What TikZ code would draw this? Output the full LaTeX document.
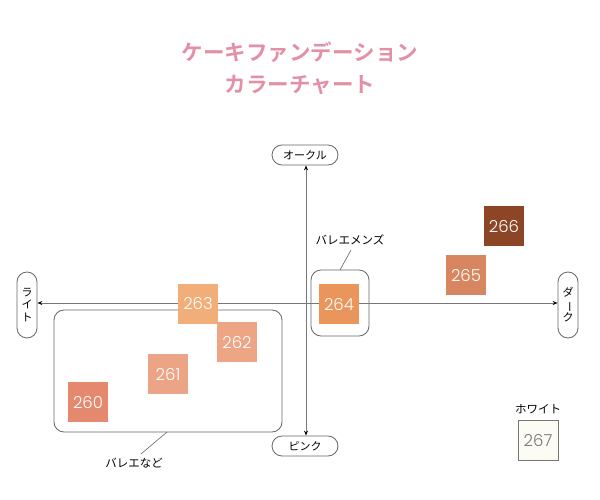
\documentclass[tikz,border=0pt]{standalone}
\usepackage{fontspec}
\usepackage{graphicx}
\newfontfamily\jp{Noto Sans CJK JP}
\newfontfamily\jpb{Noto Sans CJK JP Bold}
\newfontfamily\num{Poppins Light}
\usetikzlibrary{arrows.meta}
\definecolor{titlepink}{HTML}{E38FA5}
\definecolor{c260}{HTML}{E4896E}
\definecolor{c261}{HTML}{ECA487}
\definecolor{c262}{HTML}{EDA586}
\definecolor{c263}{HTML}{F1AE78}
\definecolor{c264}{HTML}{E9955C}
\definecolor{c265}{HTML}{D8865F}
\definecolor{c266}{HTML}{8C4525}
\definecolor{c267}{HTML}{FCFBF4}
\definecolor{axisgray}{HTML}{777777}
\definecolor{boxgray}{HTML}{666666}
\tikzset{
  swatch/.style={minimum size=40pt, inner sep=0pt, text=white, font=\num\fontsize{16.5}{16.5}\selectfont},
  pill/.style={draw=boxgray, line width=0.8pt, rounded corners=10pt, minimum width=66pt, minimum height=20pt, inner sep=0pt, font=\jp\fontsize{11}{11}\selectfont},
  vpill/.style={draw=boxgray, line width=0.8pt, rounded corners=10pt, minimum width=20pt, minimum height=66pt, inner sep=0pt, font=\jp\fontsize{11}{12.5}\selectfont, align=center},
  grp/.style={draw=boxgray, line width=0.8pt, rounded corners=10pt},
  lbl/.style={font=\jp\fontsize{11.5}{11.5}\selectfont, inner sep=1pt},
  ttl/.style={font=\jpb\fontsize{21.5}{21.5}\selectfont, text=titlepink},
  axis/.style={draw=axisgray, line width=0.9pt, -{Stealth[length=5pt,width=4pt,color=black]}},
  lead/.style={draw=boxgray, line width=0.6pt}
}
\begin{document}
\begin{tikzpicture}[x=1pt,y=-1pt]
\useasboundingbox (0,0) rectangle (600,500);
\node[ttl] (t1) at (300,52) {ケーキファンデーション};
\node[ttl] (t2) at (300,85) {カラーチャート};
% group boxes
\node[grp, minimum width=228pt, minimum height=122pt] (gball) at (168,371) {};
\node[grp, minimum width=58pt, minimum height=66pt] (gmen) at (340,303) {};
% axis end nodes
\node[pill] (ochre) at (305,155) {オークル};
\node[pill] (pink) at (305,446) {ピンク};
\node[vpill] (light) at (27,305) {ラ\\イ\\ト};
\node[vpill] (dark) at (568,305) {ダ\\\rotatebox[origin=c]{-90}{ー}\\ク};
\coordinate (center) at (306,303);
\draw[axis] (center) -- (light.east |- center);
\draw[axis] (center) -- (dark.west |- center);
\draw[axis] (center) -- (ochre.south -| center);
\draw[axis] (center) -- (pink.north -| center);
% swatches
\node[swatch, fill=c263] (s263) at (198,304) {263};
\node[swatch, fill=c262] (s262) at (237,342) {262};
\node[swatch, fill=c261] (s261) at (168,374) {261};
\node[swatch, fill=c260] (s260) at (88,402) {260};
\node[swatch, fill=c264] (s264) at (339,304) {264};
\node[swatch, fill=c265] (s265) at (466,275) {265};
\node[swatch, fill=c266] (s266) at (504,226) {266};
\node[swatch, fill=c267, draw=axisgray, line width=0.8pt, text=axisgray] (s267) at (538,440) {267};
% labels
\node[lbl] (lmen) at (350,240) {バレエメンズ};
\node[lbl] (lball) at (134,463) {バレエなど};
\node[lbl] (lwhite) at (538,409) {ホワイト};
\coordinate (menA) at (340,270);
\coordinate (menB) at (351,250);
\draw[lead] (menA) -- (menB);
\coordinate (ballA) at (167,432);
\coordinate (ballB) at (141,454);
\draw[lead] (ballA) -- (ballB);
\end{tikzpicture}
\end{document}
